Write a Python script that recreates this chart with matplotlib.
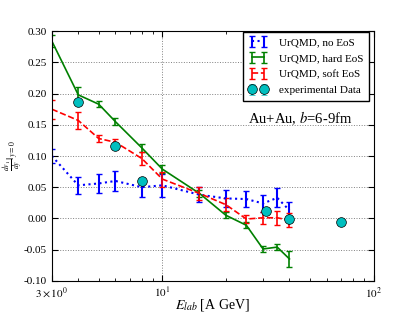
import numpy as np
import matplotlib
matplotlib.use("Agg")
import matplotlib.pyplot as plt
from matplotlib.ticker import FixedLocator, NullFormatter

plt.rcParams['font.family'] = ['Liberation Serif', 'DejaVu Serif']
plt.rcParams['mathtext.fontset'] = 'stix'
plt.rcParams['xtick.direction'] = 'in'
plt.rcParams['ytick.direction'] = 'in'
plt.rcParams['xtick.top'] = True
plt.rcParams['ytick.right'] = True

# UrQMD, no EoS
e_none = [3, 4, 5, 6, 8, 10, 15, 20, 25, 30, 35, 40]
v_none = [0.100, 0.053, 0.056, 0.060, 0.050, 0.053, 0.038, 0.032, 0.031, 0.024, 0.033, 0.013]
err_none = [0.012, 0.014, 0.015, 0.016, 0.015, 0.018, 0.012, 0.014, 0.013, 0.013, 0.015, 0.013]

# UrQMD, hard EoS
e_hard = [3, 4, 5, 6, 8, 10, 15, 20, 25, 30, 35, 40]
v_hard = [0.284, 0.198, 0.183, 0.155, 0.113, 0.079, 0.040, 0.005, -0.011, -0.049, -0.046, -0.065]
err_hard = [0.010, 0.013, 0.005, 0.006, 0.007, 0.006, 0.006, 0.005, 0.005, 0.005, 0.005, 0.013]

# UrQMD, soft EoS
e_soft = [3, 4, 5, 6, 8, 10, 15, 20, 25, 30, 35, 40]
v_soft = [0.175, 0.157, 0.128, 0.122, 0.096, 0.063, 0.040, 0.022, -0.001, 0.001, 0.001, -0.003]
err_soft = [0.015, 0.014, 0.006, 0.006, 0.010, 0.012, 0.011, 0.010, 0.007, 0.010, 0.011, 0.011]

# experimental data
e_exp = [4, 6, 8, 31, 40, 70]
v_exp = [0.186, 0.116, 0.060, 0.012, -0.001, -0.006]
err_exp = [0.004, 0.004, 0.004, 0.004, 0.004, 0.004]

fig = plt.figure(figsize=(4.15, 3.12), dpi=100)
ax = fig.add_axes([0.125, 0.1, 0.775, 0.8])

ax.errorbar(e_none, v_none, yerr=err_none, fmt=':', color='b', lw=1.5, capsize=2.5,
            label='UrQMD, no EoS')
ax.errorbar(e_hard, v_hard, yerr=err_hard, fmt='-', color='g', lw=1.2, capsize=2.5,
            label='UrQMD, hard EoS')
ax.errorbar(e_soft, v_soft, yerr=err_soft, fmt='--', color='r', lw=1.2, capsize=2.5,
            label='UrQMD, soft EoS')
ax.errorbar(e_exp, v_exp, yerr=err_exp, fmt='o', color='c', mec='k', mew=0.5, ms=7,
            capsize=2, label='experimental Data')

ax.set_xscale('log')
ax.set_xlim(3, 100)
ax.set_ylim(-0.1, 0.3)
ax.xaxis.set_major_locator(FixedLocator([3, 10, 100]))
ax.set_xticklabels([r'$3\times10^{0}$', r'$10^{1}$', r'$10^{2}$'])
ax.xaxis.set_minor_locator(FixedLocator([4, 5, 6, 7, 8, 9, 20, 30, 40, 50, 60, 70, 80, 90]))
ax.xaxis.set_minor_formatter(NullFormatter())
ax.set_yticks(np.arange(-0.1, 0.31, 0.05))
ax.yaxis.set_major_formatter(plt.FuncFormatter(lambda v, p: '%.2f' % (0 if abs(v) < 1e-9 else v)))
ax.tick_params(labelsize=8, length=4)
ax.tick_params(axis='x', pad=3.5)
ax.tick_params(which='minor', length=2)
ax.grid(True, linestyle=':', color='gray', lw=0.7)
ax.grid(False, which='minor')

ax.set_xlabel(r'$E_{lab}$ [A GeV]', fontsize=10, labelpad=-3)
ax.set_ylabel(r'$\frac{dv_1}{dy}|_{y=0}$', fontsize=8)
ax.yaxis.set_label_coords(-0.085, 0.5)

ax.legend(loc='upper right', bbox_to_anchor=(0.985, 0.997), fontsize=8, numpoints=2,
          borderaxespad=0.0, handlelength=1.7, handletextpad=1.0, fancybox=False,
          framealpha=1, edgecolor='k', borderpad=0.5, labelspacing=0.55)
ax.text(0.61, 0.63, r'Au+Au, $b$=6-9fm', transform=ax.transAxes, fontsize=10.5)

fig.savefig('out.png', dpi=100)
